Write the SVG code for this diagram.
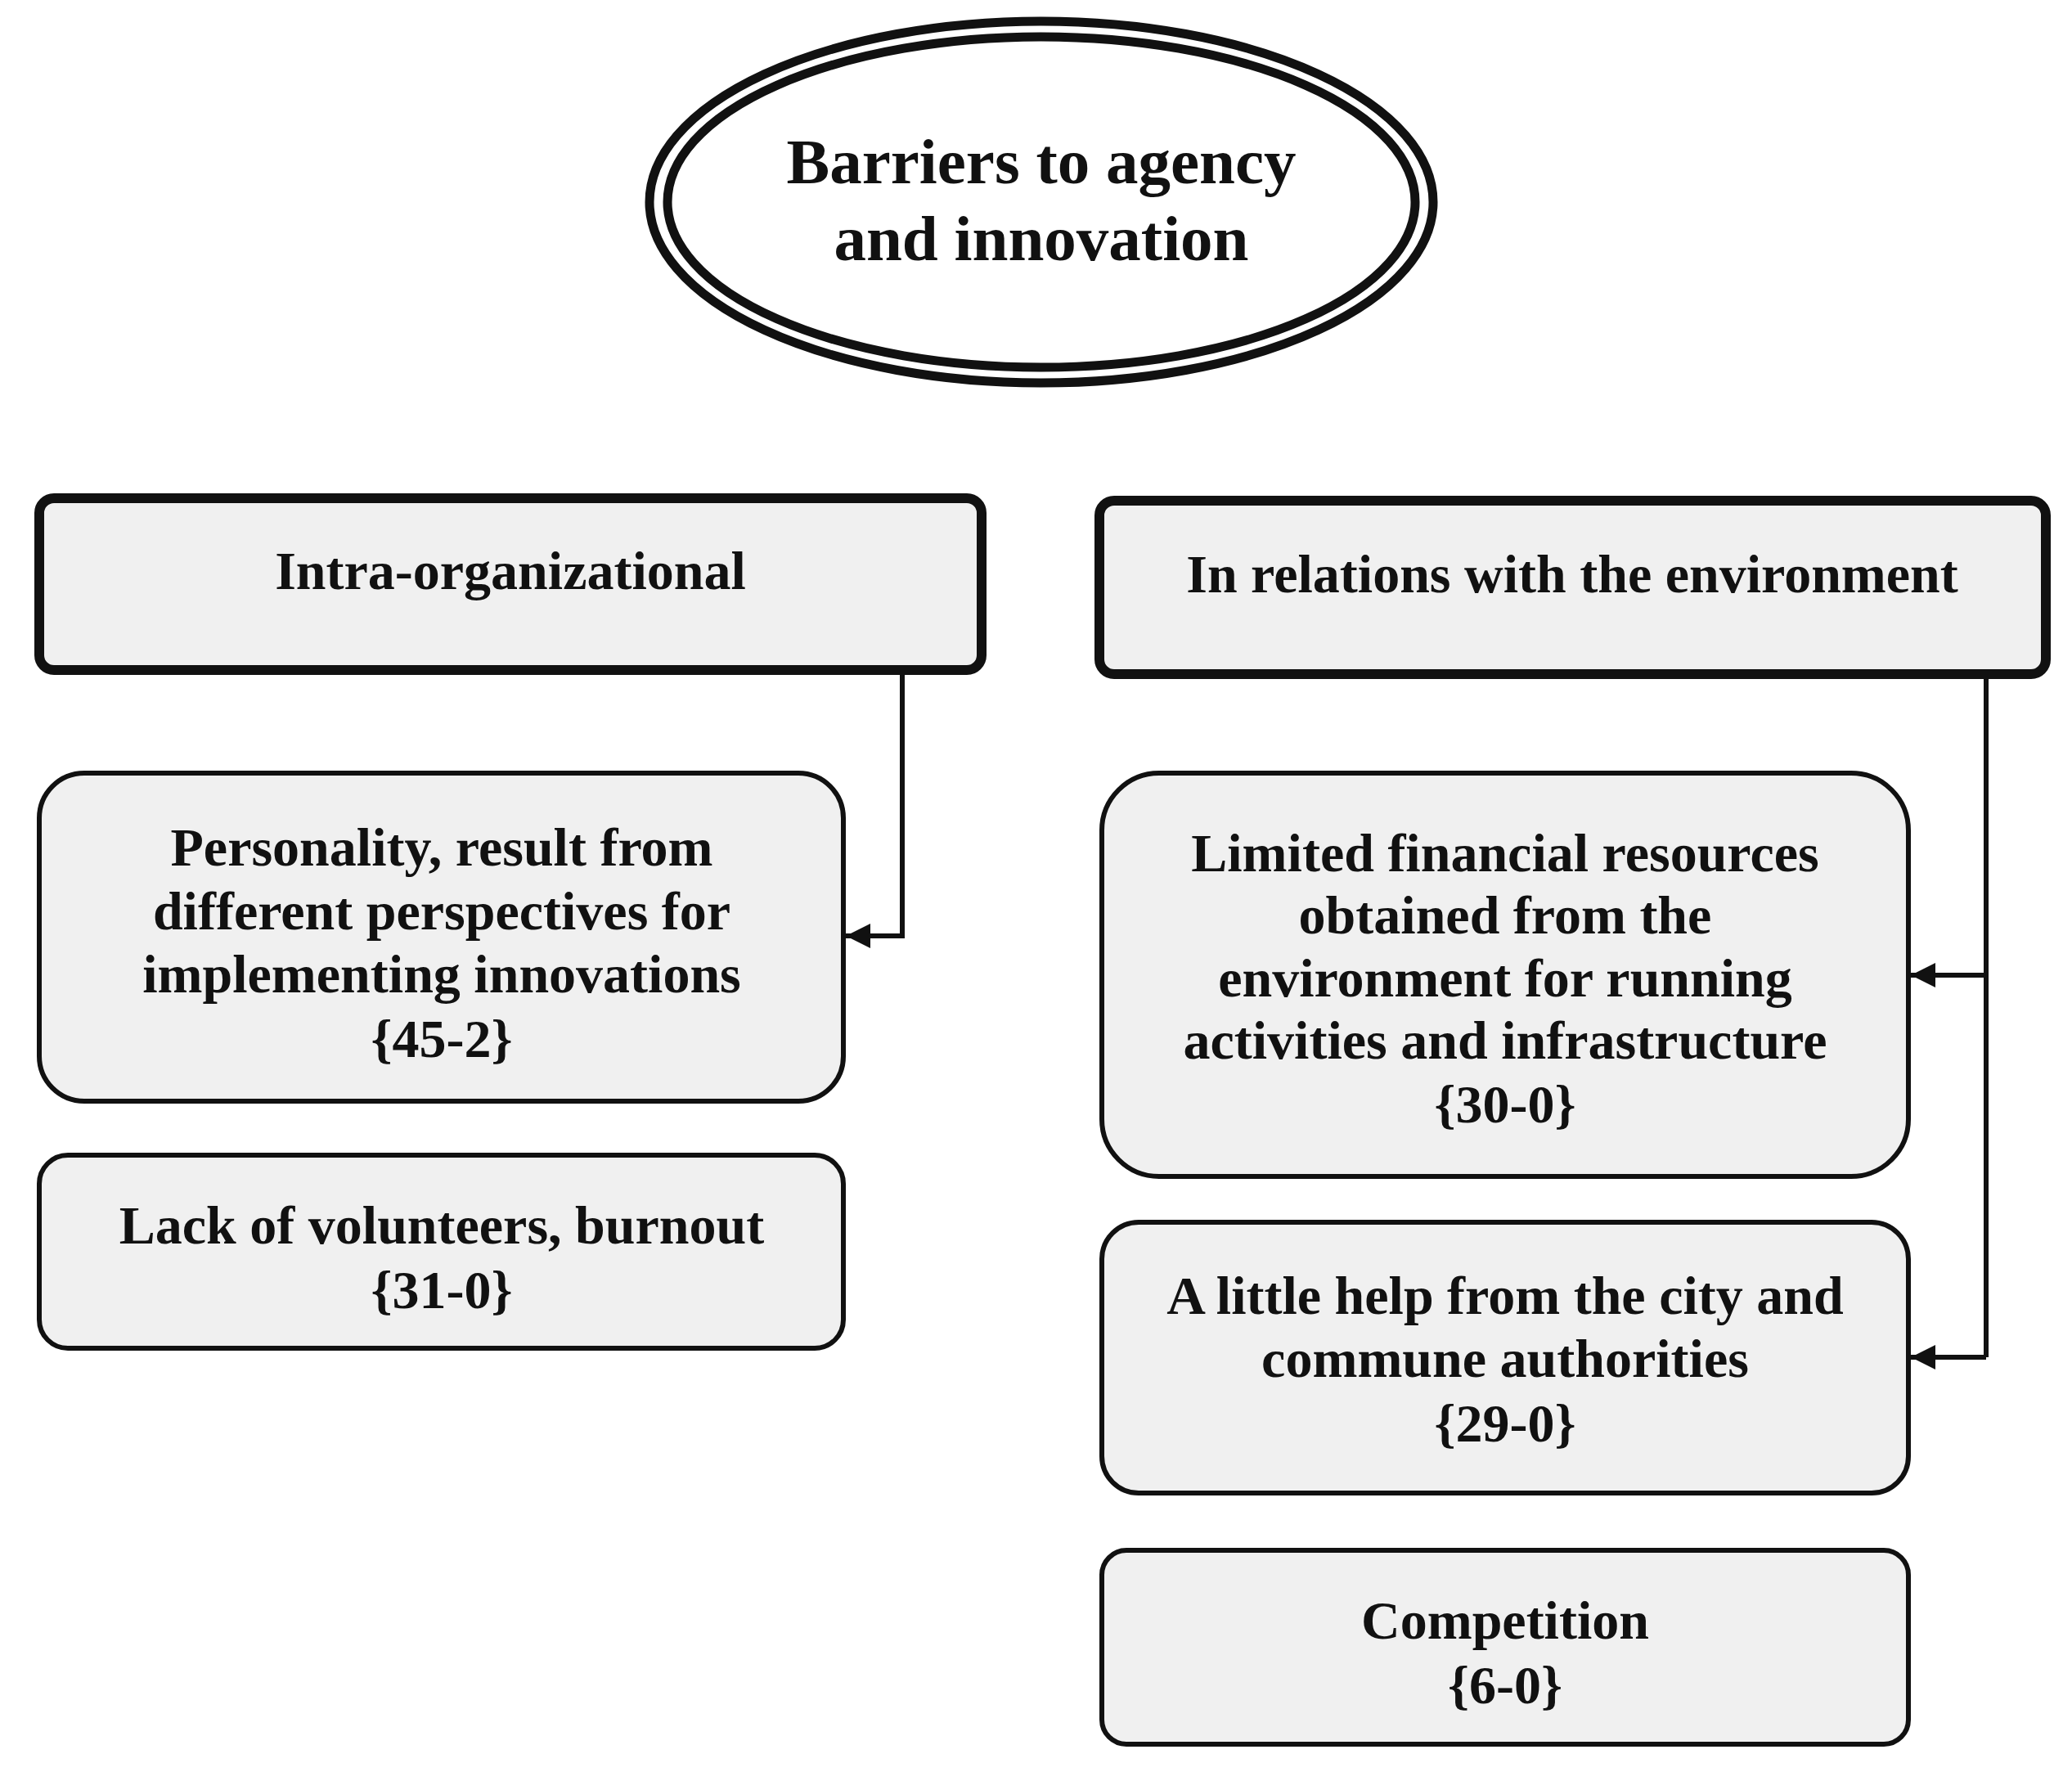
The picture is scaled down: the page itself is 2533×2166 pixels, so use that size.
<svg xmlns="http://www.w3.org/2000/svg" width="2533" height="2166" viewBox="0 0 2533 2166">
<style>
text{font-family:"Liberation Serif","Times New Roman",serif;font-weight:bold;font-size:66px;text-anchor:middle;fill:#111}
.hdr{fill:#f0f0f0;stroke:#111;stroke-width:12}
.box{fill:#f0f0f0;stroke:#111;stroke-width:6}
.c{fill:none;stroke:#111;stroke-width:6}
</style>
<defs><marker id="ah" viewBox="0 0 10 10" refX="10" refY="5" markerWidth="7" markerHeight="5" markerUnits="strokeWidth" orient="auto"><path d="M0,0L10,5L0,10z" fill="#111"/></marker></defs>
<g id="root">
<ellipse cx="1273" cy="247" rx="479" ry="221" fill="#fff" stroke="#111" stroke-width="11"/>
<ellipse cx="1273" cy="247" rx="457" ry="202" fill="#fff" stroke="#111" stroke-width="11"/>
<text x="1273" y="224" style="font-size:79px">Barriers to agency</text>
<text x="1273" y="318" style="font-size:79px">and innovation</text>
</g>
<g id="intra"><rect class="hdr" x="48" y="609" width="1152" height="210" rx="18"/><text x="624" y="720">Intra-organizational</text></g>
<g id="env"><rect class="hdr" x="1344" y="612" width="1157" height="212" rx="18"/><text x="1922" y="724">In relations with the environment</text></g>
<g id="personality"><rect class="box" x="48" y="945" width="983" height="401" rx="55"/>
<text x="540" y="1058">Personality, result from</text><text x="540" y="1136">different perspectives for</text><text x="540" y="1213">implementing innovations</text><text x="540" y="1292">{45-2}</text></g>
<g id="volunteers"><rect class="box" x="48" y="1412" width="983" height="236" rx="35"/>
<text x="540" y="1520">Lack of volunteers, burnout</text><text x="540" y="1599">{31-0}</text></g>
<g id="financial"><rect class="box" x="1347" y="945" width="986" height="493" rx="70"/>
<text x="1840" y="1065">Limited financial resources</text><text x="1840" y="1141">obtained from the</text><text x="1840" y="1218">environment for running</text><text x="1840" y="1294">activities and infrastructure</text><text x="1840" y="1372">{30-0}</text></g>
<g id="help"><rect class="box" x="1347" y="1494" width="986" height="331" rx="45"/>
<text x="1840" y="1606">A little help from the city and</text><text x="1840" y="1683">commune authorities</text><text x="1840" y="1762">{29-0}</text></g>
<g id="competition"><rect class="box" x="1347" y="1895" width="986" height="237" rx="30"/>
<text x="1840" y="2003">Competition</text><text x="1840" y="2082">{6-0}</text></g>
<g id="connectors">
<path class="c" d="M1103,819V1144H1034" marker-end="url(#ah)"/>
<path class="c" d="M2428,824V1659"/>
<path class="c" d="M2428,1192H2336" marker-end="url(#ah)"/>
<path class="c" d="M2428,1659H2336" marker-end="url(#ah)"/>
</g>
</svg>
